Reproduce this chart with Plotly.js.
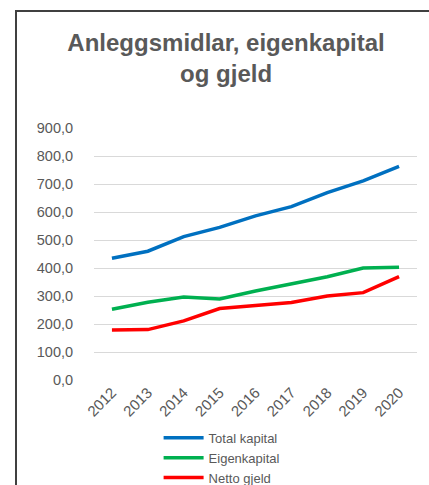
<!DOCTYPE html>
<html>
<head>
<meta charset="utf-8">
<script src="https://cdn.plot.ly/plotly-3.0.1.min.js"></script>
<style>
html,body{margin:0;padding:0;background:#fff;overflow:hidden;}
#chart{width:429px;height:485px;position:absolute;left:0;top:0;}
#frame{position:absolute;left:15px;top:10px;width:420px;height:480px;border-left:2px solid #404040;border-top:2px solid #404040;pointer-events:none;z-index:10;}
</style>
</head>
<body>
<div id="chart"></div>
<div id="frame"></div>
<script>
const years = ["2012","2013","2014","2015","2016","2017","2018","2019","2020"];
const totalKapital = [435, 460, 512, 545, 586, 619, 669, 711, 763];
const eigenkapital = [253, 278, 296, 289, 318, 342, 369, 400, 403];
const nettoGjeld = [179, 180, 211, 255, 266, 277, 300, 312, 369];
const seriesNames = ["Total kapital", "Eigenkapital", "Netto gjeld"];
const seriesColors = ["#0070C0", "#00B050", "#FF0000"];
const yTicks = [0, 100, 200, 300, 400, 500, 600, 700, 800, 900];

const values = [totalKapital, eigenkapital, nettoGjeld];
const data = values.map((v, i) => ({
  type: "scatter",
  mode: "lines",
  x: years,
  y: v,
  name: seriesNames[i],
  line: {color: seriesColors[i], width: 3.5}
}));

const font = "Liberation Sans, Arial, sans-serif";
const layout = {
  width: 429, height: 485,
  margin: {l: 94, r: 12, t: 128, b: 105, autoexpand: false},
  paper_bgcolor: "rgba(0,0,0,0)",
  plot_bgcolor: "rgba(0,0,0,0)",
  font: {family: font, color: "#595959", size: 14},
  title: {
    text: "<b>Anleggsmidlar, eigenkapital<br>og gjeld</b>",
    font: {family: font, size: 24, color: "#595959"},
    xref: "container", x: 0.527, xanchor: "center",
    yref: "container", y: 1 - 51/485, yanchor: "top"
  },
  separators: ",.",
  xaxis: {
    type: "category",
    range: [-0.5, 8.5],
    tickangle: -45,
    showgrid: false,
    zeroline: false,
    showline: false,
    ticks: "",
    automargin: false,
    tickfont: {size: 15, color: "#595959"},
    fixedrange: true
  },
  yaxis: {
    range: [0, 900],
    tickvals: yTicks,
    tickformat: ".1f",
    showgrid: true,
    gridcolor: "#d9d9d9",
    gridwidth: 1,
    zeroline: false,
    showline: false,
    ticks: "outside",
    ticklen: 17,
    automargin: false,
    tickcolor: "rgba(0,0,0,0)",
    tickfont: {size: 14.5, color: "#595959"},
    fixedrange: true
  },
  showlegend: true,
  legend: {
    orientation: "v",
    x: 0.2, xanchor: "left",
    y: -0.17, yanchor: "top",
    font: {size: 13, color: "#595959"},
    bgcolor: "rgba(0,0,0,0)",
    tracegroupgap: 0,
    itemwidth: 40
  }
};

Plotly.newPlot("chart", data, layout, {displayModeBar: false, staticPlot: true});
</script>
</body>
</html>
